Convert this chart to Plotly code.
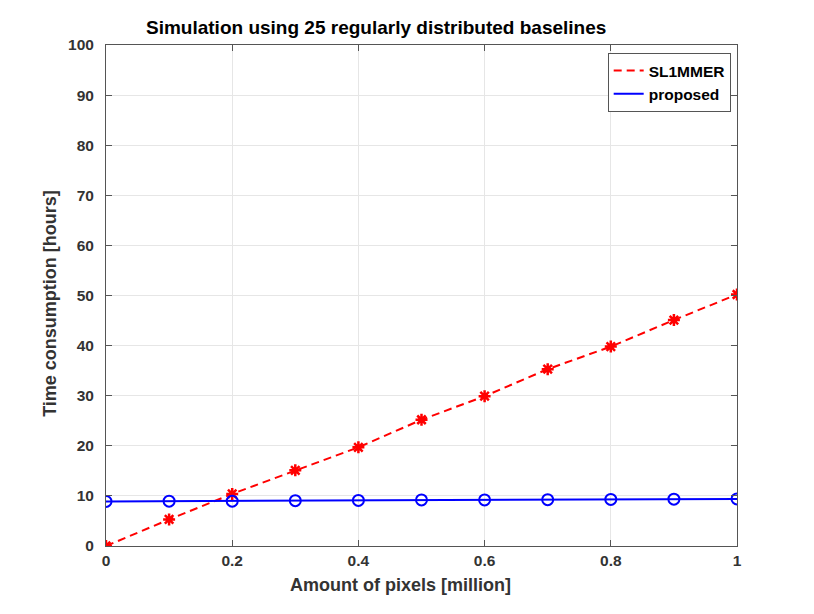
import plotly.graph_objects as go

# data
pixels = [0, 0.1, 0.2, 0.3, 0.4, 0.5, 0.6, 0.7, 0.8, 0.9, 1.0]
sl1mmer = [0.0, 5.3, 10.4, 15.1, 19.7, 25.2, 29.9, 35.3, 39.8, 45.1, 50.2]
proposed = [8.9, 8.95, 8.95, 9.05, 9.1, 9.2, 9.2, 9.25, 9.3, 9.35, 9.4]

x_ticks = [0, 0.2, 0.4, 0.6, 0.8, 1]
x_ticktext = ["0", "0.2", "0.4", "0.6", "0.8", "1"]

font = "Liberation Sans, Arial, sans-serif"
red = "#ff0000"
blue = "#0000ff"

fig = go.Figure()

# lines (these carry the legend entries)
fig.add_trace(go.Scatter(
    x=pixels, y=sl1mmer, name="SL1MMER", mode="lines",
    line=dict(color=red, width=2, dash="8px,5px"),
))
fig.add_trace(go.Scatter(
    x=pixels, y=proposed, name="proposed", mode="lines",
    line=dict(color=blue, width=2),
))
# markers only, kept out of the legend
fig.add_trace(go.Scatter(
    x=pixels, y=sl1mmer, mode="markers", showlegend=False,
    marker=dict(symbol="asterisk", size=10, color=red,
                line=dict(color=red, width=2.5)),
))
fig.add_trace(go.Scatter(
    x=pixels, y=proposed, mode="markers", showlegend=False,
    marker=dict(symbol="circle-open", size=11, color=blue,
                line=dict(color=blue, width=2)),
))

axis_common = dict(
    showline=True, linecolor="#555555", linewidth=1, mirror="ticks",
    ticks="inside", ticklen=6, tickcolor="#555555",
    showgrid=True, gridcolor="#e6e6e6", gridwidth=1,
    zeroline=False,
    tickfont=dict(family=font, size=15.5, color="#333333", weight="bold"),
)

fig.update_xaxes(range=[0, 1], tickvals=x_ticks, ticktext=x_ticktext, **axis_common)
fig.update_yaxes(range=[0, 100], dtick=10, ticklabelstandoff=8, **axis_common)

fig.update_layout(
    width=814, height=614,
    margin=dict(l=98, r=85, t=37, b=76),
    paper_bgcolor="white", plot_bgcolor="white",
    showlegend=True,
    legend=dict(
        x=0.99, y=0.984, xanchor="right", yanchor="top",
        bgcolor="white", bordercolor="#555555", borderwidth=1,
        font=dict(family=font, size=15.5, color="black", weight="bold"),
        tracegroupgap=0, itemwidth=30,
    ),
    annotations=[
        dict(text="<b>Simulation using 25 regularly distributed baselines</b>",
             x=0.428, y=1.034, xref="paper", yref="paper", showarrow=False,
             xanchor="center", yanchor="middle",
             font=dict(family=font, size=19, color="black")),
        dict(text="<b>Amount of pixels [million]</b>",
             x=0.466, y=-0.078, xref="paper", yref="paper", showarrow=False,
             xanchor="center", yanchor="middle",
             font=dict(family=font, size=18, color="#333333")),
        dict(text="<b>Time consumption [hours]</b>",
             x=-0.089, y=0.485, xref="paper", yref="paper", showarrow=False,
             xanchor="center", yanchor="middle", textangle=-90,
             font=dict(family=font, size=18, color="#333333")),
    ],
)

fig.write_html("out.html")
